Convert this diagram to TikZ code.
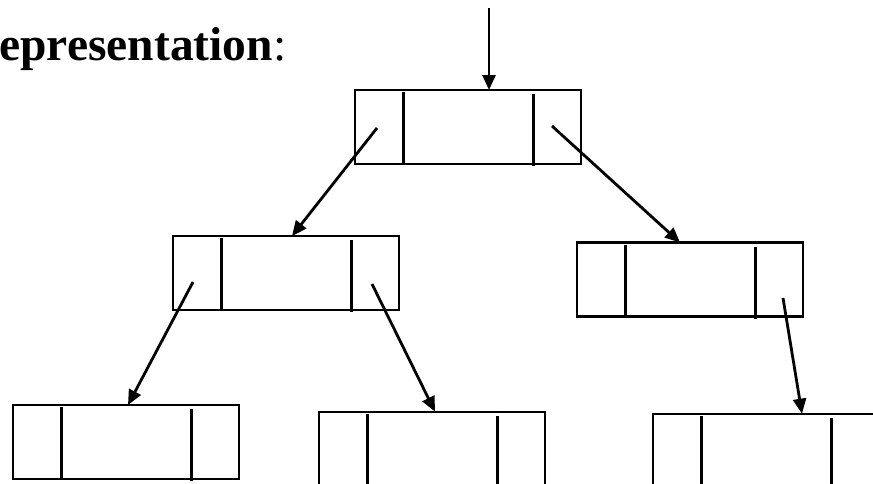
\documentclass[tikz,border=0pt]{standalone}
\usepackage{fontspec}
\setmainfont{Liberation Serif}
\usetikzlibrary{arrows.meta}
\tikzset{
  cell/.style={draw=black, line width=2.4pt, minimum width=226pt, minimum height=74pt, inner sep=0pt, outer sep=0pt},
  divider/.style={line width=3pt},
  link/.style={line width=2.8pt, -{Triangle[length=15pt,width=13pt]}},
}
% three-field node: left pointer | key | right pointer
\newcommand{\treecell}[3]{%
  \node[cell] (#1) at (#2,#3) {};
  \draw[divider] ([xshift=-65pt,yshift=-2pt]#1.north) -- ([xshift=-65pt]#1.south);
  \draw[divider] ([xshift=65pt,yshift=-4pt]#1.north) -- ([xshift=65pt,yshift=-2pt]#1.south);
}
\begin{document}
\begin{tikzpicture}[x=1pt,y=-1pt]
\useasboundingbox (0,0) rectangle (873,483);
\clip (0,0) rectangle (873,483);

\node[anchor=base west, inner sep=0pt, font=\fontsize{47.5}{52}\selectfont] (title) at (-35,60) {\textbf{Representation}:};

\treecell{root}{468}{127}
\treecell{ll}{286}{273}
\treecell{lr}{690}{279.5}
\treecell{bl}{126}{442}
\treecell{bm}{432}{448.7}
\treecell{br}{766}{450.7}

\coordinate (entry) at (489,8);
\coordinate (rootL) at (377,128);
\coordinate (rootR) at (552,126);
\coordinate (llL) at (193,282);
\coordinate (llR) at (372,284);
\coordinate (lrR) at (783,298);

\draw[link] (entry) -- ([xshift=21pt]root.north);
\draw[link] (rootL) -- ([xshift=6pt]ll.north);
\draw[link] (rootR) -- ([xshift=-10pt]lr.north);
\draw[link] (llL) -- ([xshift=2pt]bl.north);
\draw[link] (llR) -- ([xshift=3pt]bm.north);
\draw[link] (lrR) -- ([xshift=36pt]br.north);
\end{tikzpicture}
\end{document}
